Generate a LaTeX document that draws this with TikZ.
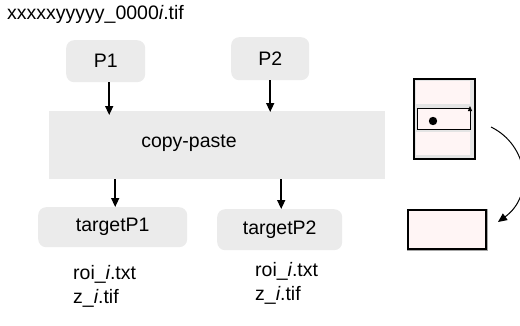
\documentclass[tikz,border=0pt]{standalone}
\usepackage{fontspec}
\setmainfont{Liberation Sans}
\usetikzlibrary{arrows.meta}
\definecolor{boxgrey}{HTML}{EBEBEB}
\definecolor{pinkfill}{HTML}{FFF5F5}
\definecolor{ringgrey}{HTML}{E4E4E4}
\tikzset{
  rbox/.style={fill=boxgrey, rounded corners=8pt, inner sep=0pt, anchor=north west, font=\fontsize{19.5}{23}\selectfont},
  sbox/.style={fill=boxgrey, inner sep=0pt, anchor=north west, font=\fontsize{19.5}{23}\selectfont},
  txt/.style={inner sep=0pt, anchor=west, font=\fontsize{19.5}{23}\selectfont},
  arr/.style={-{Triangle[length=9pt,width=8pt]}, line width=1.5pt},
}
\begin{document}
\begin{tikzpicture}[x=1pt,y=-1pt]
\useasboundingbox (0,0) rectangle (520,325);
\clip (0,0) rectangle (520,325);
% title
\node[txt] (title) at (7,14) {xxxxxyyyyy\_0000\textit{i}.tif};
% top boxes
\node[rbox, minimum width=79pt, minimum height=42pt] (P1) at (66,40) {P1};
\node[rbox, minimum width=78pt, minimum height=43pt] (P2) at (231,37) {P2};
% copy-paste
\node[sbox, minimum width=336pt, minimum height=68pt] (copy) at (49,111) {};
\node[txt, anchor=center] (copytxt) at (189,143) {copy-paste};
% target boxes
\node[rbox, minimum width=149pt, minimum height=40pt] (t1) at (38,207) {targetP1};
\node[rbox, minimum width=125pt, minimum height=41pt] (t2) at (217,209) {targetP2};
% arrows
\draw[arr] ([xshift=3.5pt]P1.south) -- ([xshift=3.5pt,yshift=-4pt]P1.south |- copy.north);
\draw[arr] (P2.south) -- ([yshift=-1pt]P2.south |- copy.north);
\draw[arr] ([xshift=2.5pt]t1.north |- copy.south) -- ([xshift=2.5pt]t1.north);
\draw[arr] ([xshift=1.5pt]t2.north |- copy.south) -- ([xshift=1.5pt]t2.north);
% labels
\node[txt] (roi1) at (73,274) {roi\_\textit{i}.txt};
\node[txt] (z1) at (73,298) {z\_\textit{i}.tif};
\node[txt] (roi2) at (255,271) {roi\_\textit{i}.txt};
\node[txt] (z2) at (255,295) {z\_\textit{i}.tif};
% tall rectangle
\node[draw=black, line width=1.5pt, fill=ringgrey, minimum width=61pt, minimum height=80pt, inner sep=0pt, anchor=north west] (tall) at (413,78) {};
\fill[pinkfill] (416,81) rectangle (470,104);
\fill[pinkfill] (416,132) rectangle (470,155);
\fill[pinkfill] (417,108) rectangle (471,129);
\draw[line width=0.8pt, -{Triangle[length=5pt,width=4pt]}] (470,108) -- (417,108) -- (417,129) -- (470,129) -- (470,106);
\fill[black] (433,121) circle (4.2pt);
% small rectangle
\node[draw=black!35, line width=3pt, minimum width=78pt, minimum height=39pt, inner sep=0pt, anchor=north west] (small) at (407,209) {};
\node[draw=black, fill=pinkfill, line width=1.5pt, minimum width=78pt, minimum height=39pt, inner sep=0pt, anchor=north west] (smallin) at (407,209) {};
% curved arrow
\coordinate (cs) at (491,127);
\coordinate (ce) at (498,222);
\draw[line width=1pt, -{Triangle[length=9pt,width=8pt]}] (cs) .. controls (528,145) and (535,195) .. (ce);
\end{tikzpicture}
\end{document}
